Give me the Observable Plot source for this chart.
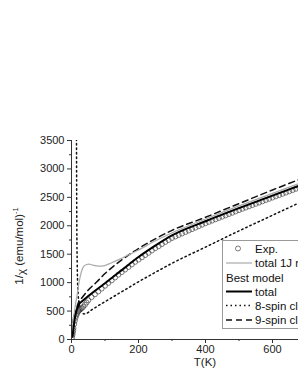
<!DOCTYPE html>
<html><head><meta charset="utf-8">
<script src="https://cdn.jsdelivr.net/npm/d3@7"></script>
<script src="https://cdn.jsdelivr.net/npm/@observablehq/plot@0.6"></script>
<style>
html,body{margin:0;padding:0;background:#fff;overflow:hidden}
#wrap{width:298px;height:385px;overflow:hidden;position:relative}
#wrap svg{max-width:none !important;display:block}
</style>
</head><body><div id="wrap"></div>
<script>
// Experimental data: T (K), 1/chi
const expT = [2,3,4,5,6,8,10,12,14,16,18,20,22,25,28,31,35,40,45,50,60,70,80,90,100,110,120,130,140,150,160,170,180,190,200,210,220,230,240,250,260,270,280,290,300,310,320,330,340,350,360,370,380,390,400,410,420,430,440,450,460,470,480,490,500,510,520,530,540,550,560,570,580,590,600,610,620,630,640,650,660,670,680,690,700];
const expV = [40,80,120,160,200,270,330,380,420,450,475,495,510,525,540,555,575,610,650,690,745,795,845,895,945,995,1040,1090,1140,1185,1230,1275,1320,1365,1405,1445,1485,1525,1565,1605,1640,1678,1715,1750,1785,1812,1838,1864,1890,1916,1941,1967,1993,2019,2045,2068,2091,2114,2137,2160,2183,2206,2229,2252,2275,2298,2320,2342,2364,2386,2408,2430,2452,2474,2496,2518,2540,2562,2584,2606,2628,2650,2672,2694,2716];
// total 1J model
const oneJT = [1,2,5,10,17,23,30,37,45,52,60,70,90,120,150,196,246,296,400,500,600,700];
const oneJV = [30,100,300,540,800,1020,1200,1290,1318,1326,1315,1300,1290,1350,1430,1560,1724,1865,2120,2350,2570,2790];
// Best model: total
const totT = [3,5,8,10,13,16,20,23,30,50,100,150,200,250,300,400,500,600,700];
const totV = [50,150,290,370,460,530,590,625,665,765,990,1220,1450,1650,1830,2080,2310,2530,2750];
// 8-spin cluster
const s8T = [14.6,15,15.4,16,17,18,20,23,27,32,37,45,60,100,150,200,250,300,400,500,600,700];
const s8V = [4000,3300,2600,1900,1350,1050,780,620,530,475,450,460,520,665,840,1015,1180,1340,1625,1910,2185,2460];
// 9-spin cluster
const s9T = [2,5,10,15,20,25,32,50,75,100,150,200,250,300,400,500,600,700];
const s9V = [50,200,400,540,640,690,740,870,1010,1160,1400,1600,1770,1920,2150,2390,2630,2860];

const xMajor = [0,200,400,600];
const xMinor = [100,300,500,700];
const yMajor = [0,500,1000,1500,2000,2500,3000,3500];
const yMinor = [250,750,1250,1750,2250,2750,3250];

const zip = (a,b) => a.map((t,i)=>({T:t, v:b[i]}));
const exp = zip(expT, expV), oneJ = zip(oneJT, oneJV), tot = zip(totT, totV), s8 = zip(s8T, s8V), s9 = zip(s9T, s9V);

const font = "'Liberation Sans', Arial, sans-serif";
const chart = Plot.plot({
  width: 339, height: 385,
  marginLeft: 71, marginRight: 0, marginTop: 140, marginBottom: 46,
  x: {domain: [0, 800]},
  y: {domain: [0, 3500]},
  style: {fontFamily: font, fontSize: "11px", color: "#222", background: "#fff", maxWidth: "none"},
  marks: [
    Plot.line(s8, {x: "T", y: "v", stroke: "#111", strokeWidth: 1.5, strokeDasharray: "1.5,3", clip: true, curve: "monotone-x"}),
    Plot.line(s9, {x: "T", y: "v", stroke: "#111", strokeWidth: 1.5, strokeDasharray: "6,4", clip: true, curve: "monotone-x"}),
    Plot.dot(exp, {x: "T", y: "v", r: 2.5, stroke: "#444", strokeWidth: 0.7, fill: "none", clip: true}),
    Plot.line(oneJ, {x: "T", y: "v", stroke: "#aaa", strokeWidth: 1.2, clip: true, curve: "monotone-x"}),
    Plot.line(tot, {x: "T", y: "v", stroke: "#000", strokeWidth: 2, clip: true, curve: "monotone-x"}),
    Plot.ruleX([0], {stroke: "#333"}),
    Plot.ruleY([0], {stroke: "#333"}),
    Plot.axisY({ticks: yMajor, tickSize: 4, tickPadding: 3, tickFormat: d => String(d), label: null, stroke: "#333"}),
    Plot.axisY({ticks: yMinor, tickSize: 2, text: null, label: null, stroke: "#333"}),
    Plot.axisX({ticks: xMajor, tickSize: 4, tickPadding: 2, tickFormat: d => String(d), label: null, stroke: "#333"}),
    Plot.axisX({ticks: xMinor, tickSize: 2, text: null, label: null, stroke: "#333"})
  ]
});
chart.style.maxWidth = "none";
document.getElementById("wrap").appendChild(chart);

const svg = d3.select(chart);
// Axis titles
const yl = svg.append("text").attr("transform", "translate(23,246) rotate(-90)")
  .attr("text-anchor", "middle").attr("font-size", 11.5).attr("fill", "#222").attr("font-family", font);
yl.append("tspan").text("1/");
yl.append("tspan").text("χ").attr("dy", 2);
yl.append("tspan").text(" (emu/mol)").attr("dy", -2);
yl.append("tspan").text("-1").attr("font-size", 7.5).attr("dy", -5);
svg.append("text").attr("x", 205).attr("y", 366).attr("text-anchor", "middle")
  .attr("font-size", 11.5).attr("fill", "#222").attr("font-family", font).text("T(K)");

// Legend
const lg = svg.append("g").attr("font-family", font).attr("font-size", 11.5).attr("fill", "#111").attr("text-anchor", "start");
lg.append("rect").attr("x", 222.5).attr("y", 240.5).attr("width", 130).attr("height", 88)
  .attr("fill", "#fff").attr("stroke", "#999");
const rows = [
  {label: "Exp.", kind: "dot", y: 248.5},
  {label: "total 1J model", kind: "gray", y: 263},
  {label: "Best model", kind: "title", y: 277.5},
  {label: "total", kind: "black", y: 291.5},
  {label: "8-spin cluster", kind: "dot8", y: 305.5},
  {label: "9-spin cluster", kind: "dash9", y: 320}
];
rows.forEach(r => {
  if (r.kind === "dot") lg.append("circle").attr("cx", 238).attr("cy", r.y).attr("r", 2.5).attr("fill", "none").attr("stroke", "#444").attr("stroke-width", 0.7);
  const seg = (stroke, w, dash) => lg.append("line").attr("x1", 226).attr("x2", 252).attr("y1", r.y).attr("y2", r.y)
      .attr("stroke", stroke).attr("stroke-width", w).attr("stroke-dasharray", dash);
  if (r.kind === "gray") seg("#aaa", 1.2, null);
  if (r.kind === "black") seg("#000", 2, null);
  if (r.kind === "dot8") seg("#111", 1.5, "1.5,3");
  if (r.kind === "dash9") seg("#111", 1.5, "6,4");
  lg.append("text").attr("x", r.kind === "title" ? 226 : 255).attr("y", r.y + 4).attr("text-anchor", "start").text(r.label);
});
</script></body></html>
